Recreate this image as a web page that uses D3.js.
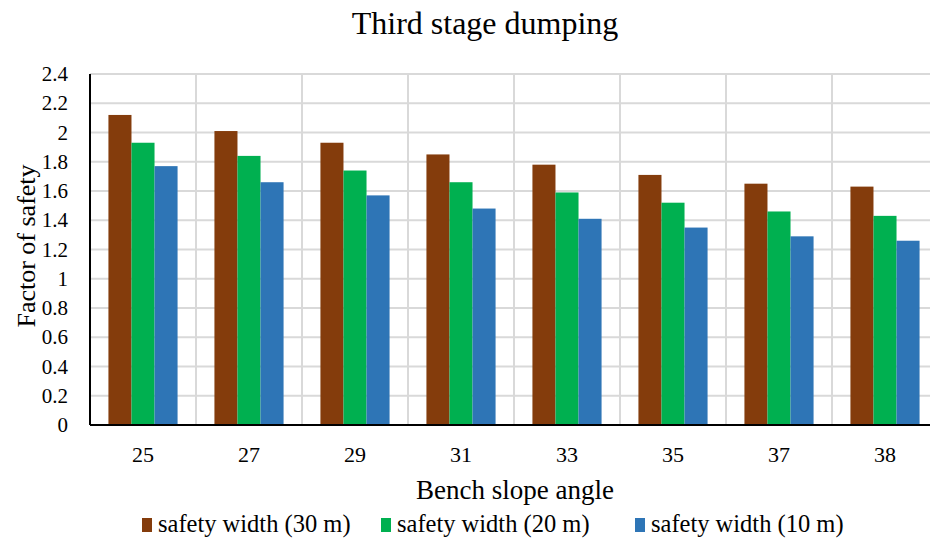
<!DOCTYPE html>
<html>
<head>
<meta charset="utf-8">
<script src="https://cdn.jsdelivr.net/npm/d3@7"></script>
<style>
  html, body { margin: 0; padding: 0; background: #fff; }
  svg text { font-family: "Liberation Serif", "Times New Roman", serif !important; fill: #000; }
</style>
</head>
<body>
<svg id="chart" width="930" height="540"></svg>
<script>
// Bench slope angles (degrees)
const categories = ["25", "27", "29", "31", "33", "35", "37", "38"];
// Series names as shown in the legend
const seriesNames = ["safety width (30 m)", "safety width (20 m)", "safety width (10 m)"];
// Factor of safety per bench slope angle
const fos30 = [2.12, 2.01, 1.93, 1.85, 1.78, 1.71, 1.65, 1.63];
const fos20 = [1.93, 1.84, 1.74, 1.66, 1.59, 1.52, 1.46, 1.43];
const fos10 = [1.77, 1.66, 1.57, 1.48, 1.41, 1.35, 1.29, 1.26];
const yTicks = [0, 0.2, 0.4, 0.6, 0.8, 1, 1.2, 1.4, 1.6, 1.8, 2, 2.2, 2.4];

const seriesValues = [fos30, fos20, fos10];
const colors = ["#843C0C", "#00B050", "#2E75B6"];

const svg = d3.select("#chart");
const plot = { left: 90, right: 938, top: 74, bottom: 425 };

const x0 = d3.scaleBand().domain(categories).range([plot.left, plot.right]).paddingInner(0).paddingOuter(0);
const x1 = d3.scaleBand().domain(seriesNames).range([0, x0.bandwidth()]).paddingInner(0).paddingOuter(0.8);
const y = d3.scaleLinear().domain([0, 2.4]).range([plot.bottom, plot.top]);

// Horizontal gridlines
svg.append("g")
  .selectAll("line")
  .data(yTicks)
  .join("line")
  .attr("x1", plot.left).attr("x2", plot.right)
  .attr("y1", d => y(d)).attr("y2", d => y(d))
  .attr("stroke", "#d9d9d9").attr("stroke-width", 2);

// Vertical gridlines at category boundaries
svg.append("g")
  .selectAll("line")
  .data(categories.slice(1))
  .join("line")
  .attr("x1", d => x0(d)).attr("x2", d => x0(d))
  .attr("y1", plot.top).attr("y2", plot.bottom)
  .attr("stroke", "#d9d9d9").attr("stroke-width", 2);

// Bars
const groups = svg.append("g")
  .selectAll("g")
  .data(categories)
  .join("g")
  .attr("transform", d => `translate(${x0(d)},0)`);

groups.selectAll("rect")
  .data((c, i) => seriesNames.map((s, k) => ({ s, k, v: seriesValues[k][i] })))
  .join("rect")
  .attr("x", d => x1(d.s))
  .attr("width", x1.bandwidth())
  .attr("y", d => y(d.v))
  .attr("height", d => y(0) - y(d.v))
  .attr("fill", d => colors[d.k]);

// Y axis
const yAxis = d3.axisLeft(y).tickValues(yTicks).tickSize(0).tickPadding(22)
  .tickFormat(d => String(+d.toFixed(1)));
const gy = svg.append("g").attr("transform", `translate(${plot.left},0)`).call(yAxis);
gy.select(".domain").remove();
gy.attr("font-family", null).attr("font-size", null);
gy.selectAll("text").style("font-size", "21px");

svg.append("line")
  .attr("x1", plot.left).attr("x2", plot.left)
  .attr("y1", plot.top).attr("y2", plot.bottom)
  .attr("stroke", "#000").attr("stroke-width", 2);

// X axis
const xAxis = d3.axisBottom(x0).tickSize(0).tickPadding(21);
const gx = svg.append("g").attr("transform", `translate(0,${plot.bottom})`).call(xAxis);
gx.select(".domain").remove();
gx.attr("font-family", null).attr("font-size", null);
gx.selectAll("text").style("font-size", "22px");

svg.append("line")
  .attr("x1", plot.left).attr("x2", plot.right)
  .attr("y1", plot.bottom).attr("y2", plot.bottom)
  .attr("stroke", "#000").attr("stroke-width", 2);

// Titles
svg.append("text")
  .attr("x", 485).attr("y", 34)
  .attr("text-anchor", "middle")
  .style("font-size", "32px")
  .text("Third stage dumping");

svg.append("text")
  .attr("x", 515).attr("y", 499)
  .attr("text-anchor", "middle")
  .style("font-size", "27px")
  .text("Bench slope angle");

svg.append("text")
  .attr("transform", "translate(35,246) rotate(-90)")
  .attr("text-anchor", "middle")
  .style("font-size", "26px")
  .text("Factor of safety");

// Legend
const legendX = [142, 381, 635];
const legend = svg.append("g")
  .selectAll("g")
  .data(seriesNames)
  .join("g")
  .attr("transform", (d, i) => `translate(${legendX[i]},0)`);
legend.append("rect")
  .attr("x", 0).attr("y", 518).attr("width", 10).attr("height", 14)
  .attr("fill", (d, i) => colors[i]);
legend.append("text")
  .attr("x", 16).attr("y", 532)
  .style("font-size", "24.5px")
  .text(d => d);
</script>
</body>
</html>
